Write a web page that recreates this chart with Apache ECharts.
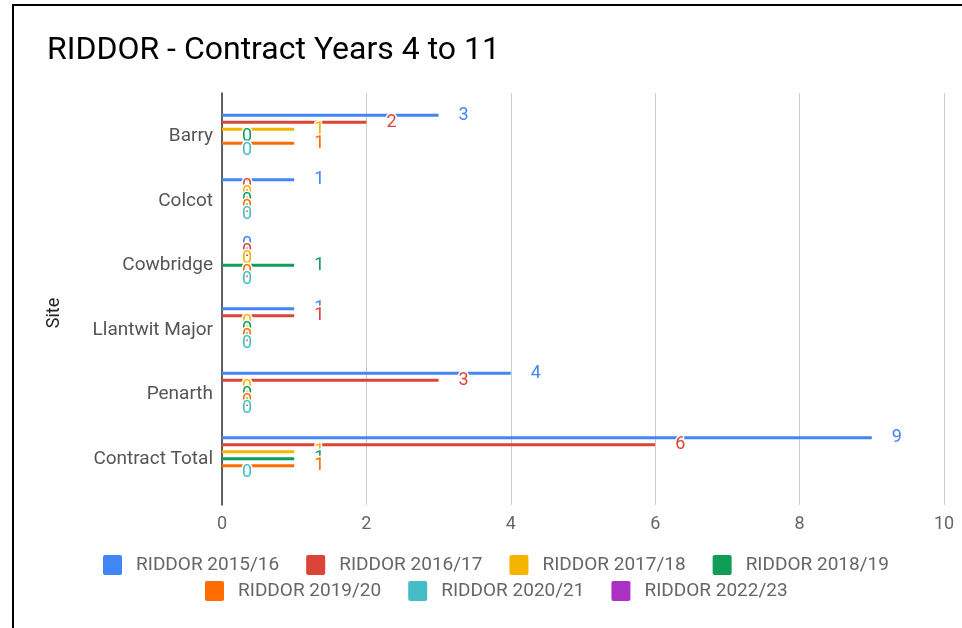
<!DOCTYPE html>
<html>
<head>
<meta charset="utf-8">
<script src="https://cdn.jsdelivr.net/npm/echarts@6/dist/echarts.min.js"></script>
<style>
html,body{margin:0;padding:0;background:#fff;}
#frame{position:absolute;left:12px;top:4px;width:950px;height:624px;border-left:2px solid #000;border-top:2px solid #000;}
#chart{position:absolute;left:0;top:0;width:962px;height:628px;}
</style>
</head>
<body>
<div id="frame"></div>
<div id="chart"></div>
<script>
const categories = ['Barry', 'Colcot', 'Cowbridge', 'Llantwit Major', 'Penarth', 'Contract Total'];
const seriesNames = ['RIDDOR 2015/16', 'RIDDOR 2016/17', 'RIDDOR 2017/18', 'RIDDOR 2018/19', 'RIDDOR 2019/20', 'RIDDOR 2020/21', 'RIDDOR 2022/23'];
const v2015 = [3, 1, 0, 1, 4, 9];
const v2016 = [2, 0, 0, 1, 3, 6];
const v2017 = [1, 0, 0, 0, 0, 1];
const v2018 = [0, 0, 1, 0, 0, 1];
const v2019 = [1, 0, 0, 0, 0, 1];
const v2020 = [0, 0, 0, 0, 0, 0];
const v2022 = [null, null, null, null, null, null];
const xTicks = [0, 2, 4, 6, 8, 10];
const colors = ['#4285F4', '#DB4437', '#F4B400', '#0F9D58', '#FF6D00', '#46BDC6', '#AB30C4'];
const values = [v2015, v2016, v2017, v2018, v2019, v2020, v2022];

const chart = echarts.init(document.getElementById('chart'));
const series = values.map((d, i) => ({
  name: seriesNames[i],
  type: 'bar',
  xAxisIndex: 1,
  yAxisIndex: 1,
  data: d,
  barWidth: 3,
  barGap: '133%',
  itemStyle: { color: colors[i] },
  label: {
    show: true,
    position: 'right',
    distance: 20,
    color: colors[i],
    fontSize: 18,
    fontFamily: 'Roboto',
    textBorderColor: '#fff',
    textBorderWidth: 3
  },
  emphasis: { disabled: true },
  animation: false
}));

const legendCommon = {
  orient: 'horizontal',
  padding: 0,
  itemWidth: 19,
  itemHeight: 20,
  itemGap: 27,
  icon: 'path://M2,0 H17 Q19,0 19,2 V18 Q19,20 17,20 H2 Q0,20 0,18 V2 Q0,0 2,0 Z',
  textStyle: { fontSize: 19, color: '#666', fontFamily: 'Roboto', padding: [0, 0, 0, 9] },
  selectedMode: false
};

chart.setOption({
  animation: false,
  title: {
    text: 'RIDDOR - Contract Years 4 to 11',
    left: 42,
    top: 30,
    textStyle: { fontSize: 32, fontWeight: 'normal', color: '#000', fontFamily: 'Roboto' }
  },
  color: colors,
  legend: [
    Object.assign({}, legendCommon, { data: seriesNames.slice(0, 4), left: 103, top: 555 }),
    Object.assign({}, legendCommon, { data: seriesNames.slice(4), left: 205, top: 581 })
  ],
  grid: [
    { left: 222, right: 18, top: 93, height: 412 },
    { left: 222, right: 18, top: 104, height: 387 }
  ],
  xAxis: [
    {
      type: 'value', gridIndex: 0, min: 0, max: 10, interval: 2,
      axisLine: { show: false }, axisTick: { show: false },
      splitLine: { show: true, lineStyle: { color: '#ccc', width: 1 } },
      axisLabel: { fontSize: 18, color: '#666', margin: 10, fontFamily: 'Roboto',
        formatter: v => xTicks.includes(v) ? String(v) : '' }
    },
    {
      type: 'value', gridIndex: 1, min: 0, max: 10, interval: 2,
      show: false
    }
  ],
  yAxis: [
    {
      type: 'value', gridIndex: 0, min: 0, max: 1,
      axisLine: { show: true, lineStyle: { color: '#333', width: 1.5 } },
      axisTick: { show: false }, axisLabel: { show: false }, splitLine: { show: false }
    },
    {
      type: 'category', gridIndex: 1, data: categories, inverse: true,
      axisLine: { show: false }, axisTick: { show: false }, splitLine: { show: false },
      axisLabel: { fontSize: 19, color: '#555', margin: 9, fontFamily: 'Roboto' }
    }
  ],
  graphic: [
    {
      type: 'text', x: 54, y: 313, rotation: Math.PI / 2,
      style: { text: 'Site', fontSize: 18, fill: '#222', fontFamily: 'Roboto', align: 'center', verticalAlign: 'middle' }
    }
  ],
  series: series
});
</script>
</body>
</html>
